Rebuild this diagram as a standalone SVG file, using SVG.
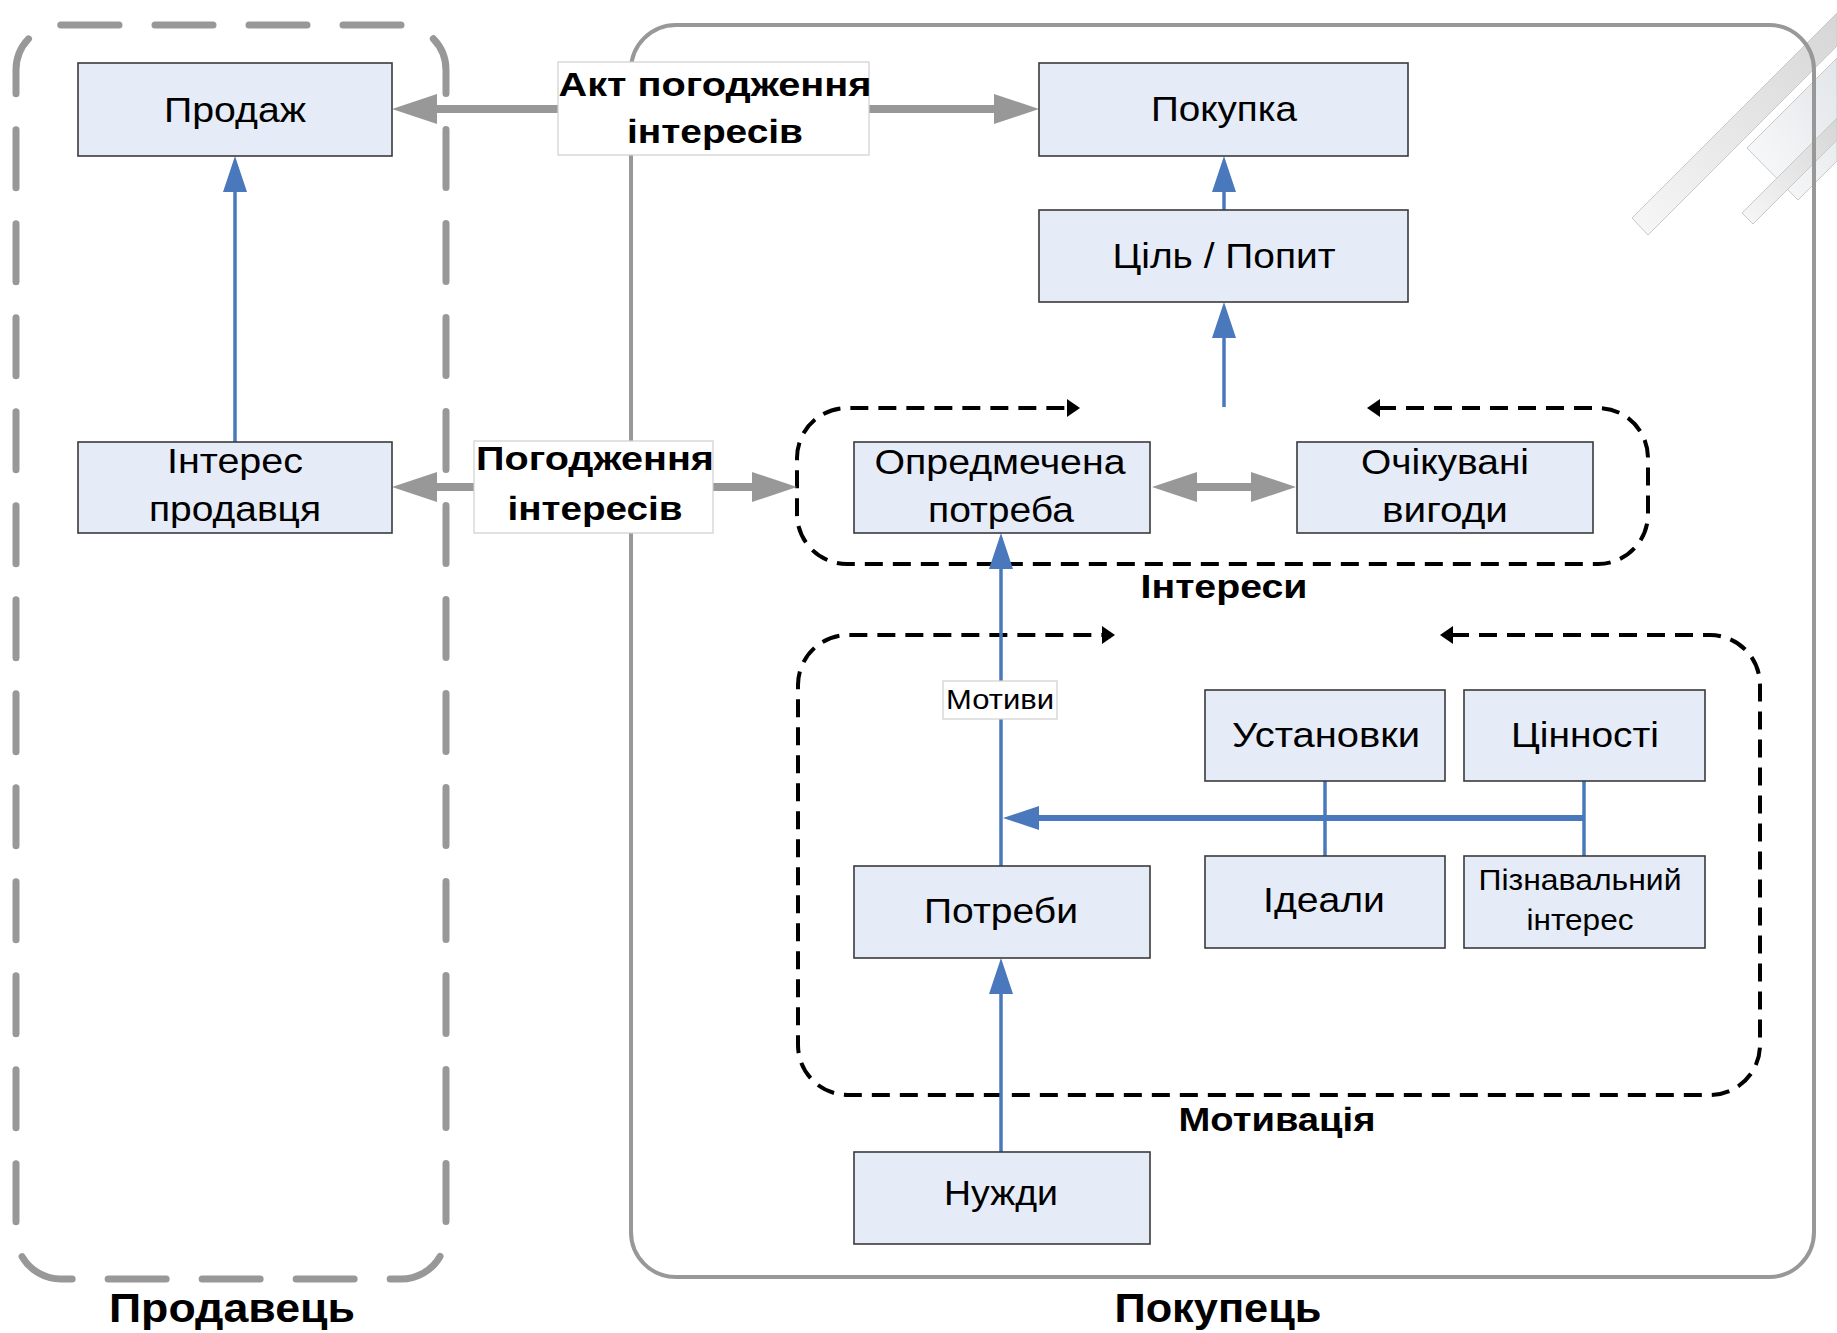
<svg xmlns="http://www.w3.org/2000/svg" width="1837" height="1333" viewBox="0 0 1837 1333">
<style>
text{font-family:"Liberation Sans",Arial,sans-serif;fill:#000;text-anchor:middle}
.t{font-size:35px}
.ts{font-size:30px}
.tm{font-size:28px}
.b{font-weight:bold;font-size:34px}
.bl{font-weight:bold;font-size:40px}
.box{fill:#e6ecf7;stroke:#3a3a3a;stroke-width:1.6}
.lbl{fill:#fff;stroke:#cfcfcf;stroke-width:1.2}
.gray{stroke:#989898;stroke-width:8;fill:none}
.blue{stroke:#4a78bd;stroke-width:3.5;fill:none}
.blueh{stroke:#4a78bd;stroke-width:6;fill:none}
.loop{stroke:#000;stroke-width:4;stroke-dasharray:18 10;fill:none}
.wm{stroke:#c9c9c9;stroke-width:1}
</style>
<defs>
<marker id="ga" markerUnits="userSpaceOnUse" markerWidth="46" markerHeight="32" refX="5" refY="15" orient="auto-start-reverse">
<path d="M0,0 L45,15 L0,30 z" fill="#989898"/>
</marker>
<marker id="ba" markerUnits="userSpaceOnUse" markerWidth="37" markerHeight="26" refX="4" refY="12" orient="auto-start-reverse">
<path d="M0,0 L36,12 L0,24 z" fill="#4a78bd"/>
</marker>
<marker id="ka" markerUnits="userSpaceOnUse" markerWidth="14" markerHeight="20" refX="2" refY="9" orient="auto-start-reverse">
<path d="M0,0 L13,9 L0,18 z" fill="#000"/>
</marker>
<linearGradient id="wg1" x1="1" y1="0" x2="0" y2="1">
<stop offset="0" stop-color="#d6d6d6"/>
<stop offset="1" stop-color="#f7f7f7"/>
</linearGradient>
<linearGradient id="wg2" x1="1" y1="0" x2="0" y2="1">
<stop offset="0" stop-color="#e2e6ea"/>
<stop offset="1" stop-color="#fbfbfb"/>
</linearGradient>
</defs>
<rect width="1837" height="1333" fill="#fff"/>

<g id="watermark">
<polygon class="wm" fill="url(#wg2)" points="1747,148 1798,200 1837,161 1837,58"/>
<polygon class="wm" fill="url(#wg1)" points="1632,218 1648,235 1837,46 1837,13"/>
<polygon class="wm" fill="url(#wg1)" points="1742,213 1753,224 1837,140 1837,118"/>
</g>

<g id="seller-frame">
<rect x="16" y="25" width="430" height="1254" rx="45" fill="none" stroke="#989898" stroke-width="7" stroke-dasharray="58 36" stroke-linecap="round"/>
<text class="bl" x="232" y="1322" textLength="246" lengthAdjust="spacingAndGlyphs">Продавець</text>
</g>

<g id="buyer-frame">
<rect x="631" y="25" width="1183" height="1252" rx="45" fill="none" stroke="#989898" stroke-width="4"/>
<text class="bl" x="1218" y="1322" textLength="207" lengthAdjust="spacingAndGlyphs">Покупець</text>
</g>

<g id="interests-group">
<path class="loop" d="M1378,408 H1598 A50,50 0 0 1 1648,458 V514 A50,50 0 0 1 1598,564 H847 A50,50 0 0 1 797,514 V458 A50,50 0 0 1 847,408 H1069" marker-start="url(#ka)" marker-end="url(#ka)"/>
<text class="b" x="1224" y="598" textLength="167" lengthAdjust="spacingAndGlyphs">Інтереси</text>
</g>

<g id="motivation-group">
<path class="loop" d="M1451,635 H1710 A50,50 0 0 1 1760,685 V1045 A50,50 0 0 1 1710,1095 H848 A50,50 0 0 1 798,1045 V685 A50,50 0 0 1 848,635 H1104" marker-start="url(#ka)" marker-end="url(#ka)"/>
<text class="b" x="1277" y="1131" textLength="197" lengthAdjust="spacingAndGlyphs">Мотивація</text>
</g>

<g id="connectors">
<line class="gray" x1="432" y1="109" x2="999" y2="109" marker-start="url(#ga)" marker-end="url(#ga)"/>
<line class="gray" x1="432" y1="487" x2="757" y2="487" marker-start="url(#ga)" marker-end="url(#ga)"/>
<line class="gray" x1="1192" y1="487" x2="1256" y2="487" marker-start="url(#ga)" marker-end="url(#ga)"/>
<line class="blue" x1="235" y1="442" x2="235" y2="188" marker-end="url(#ba)"/>
<line class="blue" x1="1224" y1="210" x2="1224" y2="188" marker-end="url(#ba)"/>
<line class="blue" x1="1224" y1="407" x2="1224" y2="334" marker-end="url(#ba)"/>
<line class="blue" x1="1001" y1="866" x2="1001" y2="565" marker-end="url(#ba)"/>
<line class="blue" x1="1001" y1="1152" x2="1001" y2="990" marker-end="url(#ba)"/>
<line class="blue" x1="1325" y1="781" x2="1325" y2="856"/>
<line class="blue" x1="1584" y1="781" x2="1584" y2="856"/>
<line class="blueh" x1="1585" y1="818" x2="1035" y2="818" marker-end="url(#ba)"/>
</g>

<g id="label-akt">
<rect class="lbl" x="558" y="62" width="311" height="93"/>
<text class="b" x="715" y="96" textLength="313" lengthAdjust="spacingAndGlyphs">Акт погодження</text>
<text class="b" x="715" y="143" textLength="176" lengthAdjust="spacingAndGlyphs">інтересів</text>
</g>

<g id="label-pogodzhennia">
<rect class="lbl" x="474" y="441" width="239" height="92"/>
<text class="b" x="595" y="470" textLength="238" lengthAdjust="spacingAndGlyphs">Погодження</text>
<text class="b" x="595" y="520" textLength="175" lengthAdjust="spacingAndGlyphs">інтересів</text>
</g>

<g id="label-motyvy">
<rect class="lbl" x="943" y="681" width="114" height="38"/>
<text class="tm" x="1000" y="709" textLength="108" lengthAdjust="spacingAndGlyphs">Мотиви</text>
</g>

<g id="node-prodazh">
<rect class="box" x="78" y="63" width="314" height="93"/>
<text class="t" x="235" y="122" textLength="142" lengthAdjust="spacingAndGlyphs">Продаж</text>
</g>

<g id="node-interes-prodavtsia">
<rect class="box" x="78" y="442" width="314" height="91"/>
<text class="t" x="235" y="473" textLength="136" lengthAdjust="spacingAndGlyphs">Інтерес</text>
<text class="t" x="235" y="521" textLength="172" lengthAdjust="spacingAndGlyphs">продавця</text>
</g>

<g id="node-pokupka">
<rect class="box" x="1039" y="63" width="369" height="93"/>
<text class="t" x="1224" y="121" textLength="146" lengthAdjust="spacingAndGlyphs">Покупка</text>
</g>

<g id="node-tsil">
<rect class="box" x="1039" y="210" width="369" height="92"/>
<text class="t" x="1224" y="268" textLength="223" lengthAdjust="spacingAndGlyphs">Ціль / Попит</text>
</g>

<g id="node-opredmechena">
<rect class="box" x="854" y="442" width="296" height="91"/>
<text class="t" x="1000" y="474" textLength="251" lengthAdjust="spacingAndGlyphs">Опредмечена</text>
<text class="t" x="1001" y="522" textLength="146" lengthAdjust="spacingAndGlyphs">потреба</text>
</g>

<g id="node-ochikuvani">
<rect class="box" x="1297" y="442" width="296" height="91"/>
<text class="t" x="1445" y="474" textLength="168" lengthAdjust="spacingAndGlyphs">Очікувані</text>
<text class="t" x="1445" y="522" textLength="126" lengthAdjust="spacingAndGlyphs">вигоди</text>
</g>

<g id="node-ustanovky">
<rect class="box" x="1205" y="690" width="240" height="91"/>
<text class="t" x="1326" y="747" textLength="188" lengthAdjust="spacingAndGlyphs">Установки</text>
</g>

<g id="node-tsinnosti">
<rect class="box" x="1464" y="690" width="241" height="91"/>
<text class="t" x="1585" y="747" textLength="148" lengthAdjust="spacingAndGlyphs">Цінності</text>
</g>

<g id="node-potreby">
<rect class="box" x="854" y="866" width="296" height="92"/>
<text class="t" x="1001" y="923" textLength="154" lengthAdjust="spacingAndGlyphs">Потреби</text>
</g>

<g id="node-idealy">
<rect class="box" x="1205" y="856" width="240" height="92"/>
<text class="t" x="1324" y="912" textLength="122" lengthAdjust="spacingAndGlyphs">Ідеали</text>
</g>

<g id="node-piznavalnyi">
<rect class="box" x="1464" y="856" width="241" height="92"/>
<text class="ts" x="1580" y="890" textLength="203" lengthAdjust="spacingAndGlyphs">Пізнавальний</text>
<text class="ts" x="1580" y="930" textLength="107" lengthAdjust="spacingAndGlyphs">інтерес</text>
</g>

<g id="node-nuzhdy">
<rect class="box" x="854" y="1152" width="296" height="92"/>
<text class="t" x="1001" y="1205" textLength="114" lengthAdjust="spacingAndGlyphs">Нужди</text>
</g>
</svg>
